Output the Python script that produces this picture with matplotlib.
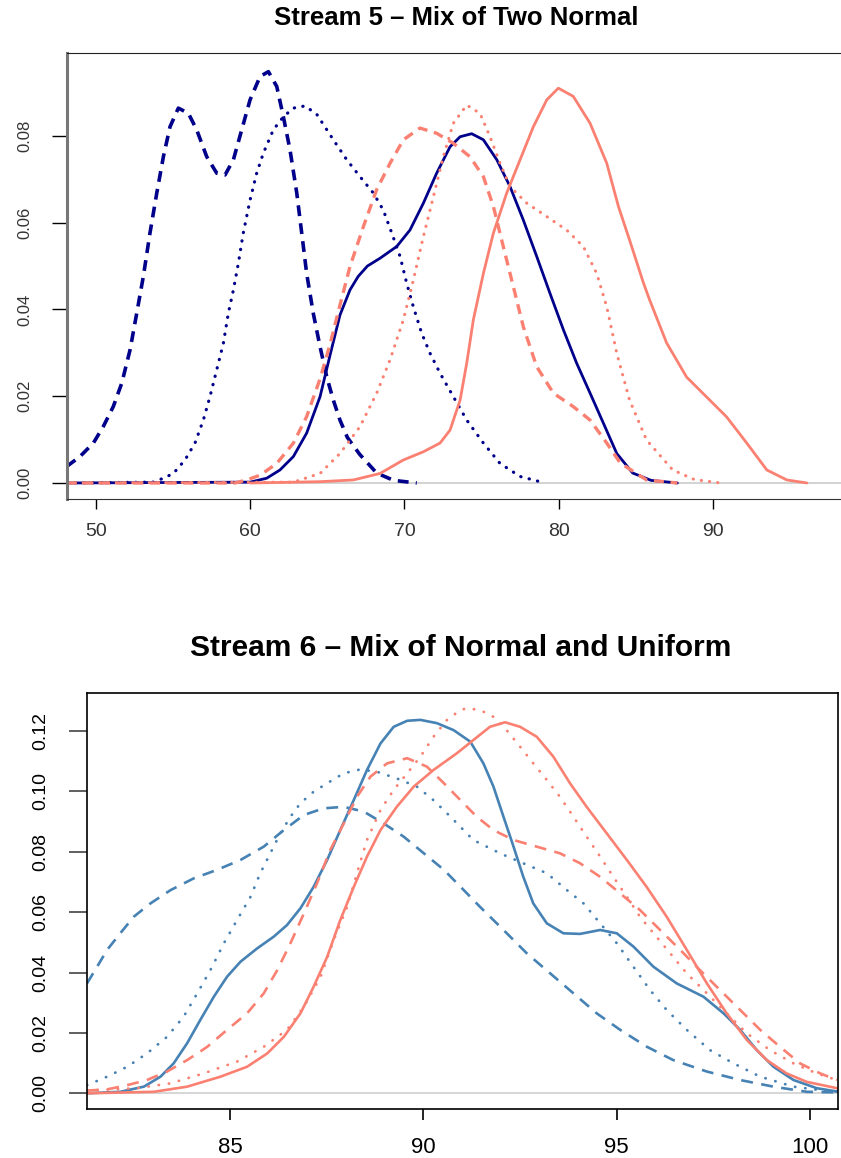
import matplotlib
matplotlib.use("Agg")
import matplotlib.pyplot as plt

plt.rcParams['font.family'] = ['Liberation Sans', 'DejaVu Sans']

NAVY = '#00008B'
SALMON = '#FA8072'
STEEL = '#4682B4'

# ---- Stream 5 (top) ----
s5_navy_solid_x = [48.1, 60.0, 61.07, 61.93, 62.8, 63.66, 64.53, 65.18, 65.82, 66.47, 67.0, 67.6, 68.42, 69.5,
                   70.36, 71.23, 72.09, 72.96, 73.61, 74.36, 75.12, 75.99, 76.85, 77.71, 78.58, 79.44, 80.31,
                   81.17, 82.04, 82.9, 83.77, 84.8, 86.0, 87.7]
s5_navy_solid_y = [0.0, 0.0002, 0.0011, 0.003, 0.0061, 0.0115, 0.0199, 0.0295, 0.0387, 0.0445, 0.0476, 0.0500,
                   0.0518, 0.0545, 0.0583, 0.0645, 0.0714, 0.0775, 0.0798, 0.0805, 0.0791, 0.0745, 0.0683, 0.0606,
                   0.0522, 0.0437, 0.0353, 0.0276, 0.0207, 0.0138, 0.0068, 0.0023, 0.0006, 0.0]

s5_navy_dash_x = [48.1, 48.96, 49.83, 50.47, 51.12, 51.67, 52.21, 52.64, 53.07, 53.5, 53.94, 54.37, 54.8, 55.34,
                  55.99, 56.53, 57.18, 57.83, 58.37, 58.91, 59.45, 59.99, 60.64, 61.18, 61.72, 62.15, 62.58, 63.02,
                  63.34, 63.66, 64.09, 64.53, 64.96, 65.39, 65.82, 66.3, 67.1, 68.2, 69.3, 70.8]
s5_navy_dash_y = [0.0038, 0.0061, 0.0092, 0.013, 0.0176, 0.023, 0.0307, 0.0391, 0.0476, 0.0576, 0.0668, 0.0752,
                  0.0821, 0.0864, 0.0852, 0.0814, 0.0752, 0.0714, 0.071, 0.0745, 0.0814, 0.0883, 0.0937, 0.0948,
                  0.0914, 0.0844, 0.0768, 0.0668, 0.0576, 0.0483, 0.0391, 0.0314, 0.0245, 0.0191, 0.0145, 0.0105,
                  0.0066, 0.0023, 0.0006, 0.0]

s5_navy_dot_x = [48.1, 53.7, 54.37, 55.02, 55.77, 56.42, 56.96, 57.39, 57.83, 58.26, 58.58, 58.91, 59.23, 59.55,
                 59.99, 60.42, 60.85, 61.5, 62.15, 62.8, 63.55, 64.31, 65.39, 66.26, 67.12, 67.99, 68.63, 69.18,
                 69.72, 70.15, 70.58, 71.12, 71.66, 72.31, 73.17, 74.04, 75.12, 76.2, 77.5, 78.79, 79.1]
s5_navy_dot_y = [0.0, 0.0002, 0.0011, 0.0022, 0.0053, 0.0092, 0.0145, 0.0199, 0.0261, 0.0322, 0.0391, 0.0445,
                 0.0506, 0.0576, 0.0652, 0.0714, 0.076, 0.0814, 0.0844, 0.0864, 0.0869, 0.085, 0.0791, 0.0745,
                 0.0706, 0.0668, 0.0629, 0.0576, 0.0522, 0.046, 0.0406, 0.0345, 0.0299, 0.0253, 0.0199, 0.0145,
                 0.0092, 0.0045, 0.0015, 0.0003, 0.0]

s5_salmon_solid_x = [60.0, 64.53, 66.69, 68.42, 69.93, 71.23, 72.31, 72.96, 73.61, 74.04, 74.47, 75.12, 75.77,
                     76.63, 77.5, 78.36, 79.23, 79.98, 80.95, 82.04, 83.12, 83.88, 84.6, 85.5, 85.9, 87.0, 88.3,
                     89.8, 90.9, 92.2, 93.5, 94.8, 96.1]
s5_salmon_solid_y = [0.0, 0.0003, 0.0007, 0.0022, 0.0053, 0.0072, 0.0092, 0.0122, 0.0191, 0.0276, 0.0376, 0.0483,
                     0.0576, 0.0668, 0.0745, 0.0821, 0.0883, 0.091, 0.0891, 0.0829, 0.0737, 0.0637, 0.056, 0.0461,
                     0.0422, 0.0323, 0.0244, 0.0191, 0.0152, 0.0092, 0.003, 0.0007, 0.0]

s5_salmon_dash_x = [48.1, 59.0, 59.77, 60.64, 61.72, 62.8, 63.66, 64.53, 65.18, 65.82, 66.47, 67.34, 68.2, 69.07,
                    69.93, 71.01, 72.09, 73.17, 74.25, 75.12, 75.77, 76.41, 77.06, 77.71, 78.58, 79.66, 80.95,
                    82.04, 83.12, 84.0, 85.7, 87.7]
s5_salmon_dash_y = [0.0, 0.0, 0.0007, 0.0018, 0.0045, 0.0092, 0.0153, 0.024, 0.032, 0.041, 0.0499, 0.0591,
                    0.0676, 0.0737, 0.0791, 0.0818, 0.0806, 0.0783, 0.0752, 0.0706, 0.0637, 0.0545, 0.0453, 0.036,
                    0.0268, 0.0207, 0.0176, 0.0145, 0.0092, 0.0046, 0.0007, 0.0]

s5_salmon_dot_x = [48.1, 62.8, 64.53, 65.82, 67.12, 68.2, 69.07, 69.93, 70.58, 71.23, 71.88, 72.52, 73.17, 74.04,
                   74.9, 75.55, 76.2, 76.85, 77.93, 79.23, 80.52, 81.6, 82.47, 83.12, 83.77, 84.6, 85.7, 87.4,
                   88.8, 90.5]
s5_salmon_dot_y = [0.0, 0.0002, 0.0022, 0.0068, 0.013, 0.0207, 0.0284, 0.0376, 0.0468, 0.0568, 0.066, 0.0752,
                   0.0829, 0.0871, 0.0852, 0.0798, 0.0737, 0.0683, 0.0645, 0.0614, 0.0583, 0.0545, 0.0483, 0.0406,
                   0.0299, 0.0191, 0.0099, 0.003, 0.0008, 0.0]

s5_xticks = [50, 60, 70, 80, 90]
s5_yticks = [0.00, 0.02, 0.04, 0.06, 0.08]

# ---- Stream 6 (bottom) ----
s6_blue_solid_x = [81.3, 82.16, 82.77, 83.2, 83.54, 83.89, 84.23, 84.58, 84.92, 85.27, 85.7, 86.13, 86.47, 86.82,
                   87.16, 87.51, 87.85, 88.2, 88.54, 88.89, 89.23, 89.58, 89.92, 90.35, 90.78, 91.21, 91.55,
                   91.81, 92.07, 92.33, 92.58, 92.84, 93.19, 93.62, 94.05, 94.57, 95.0, 95.43, 95.95, 96.55,
                   97.24, 97.76, 98.19, 98.62, 99.05, 99.57, 100.17, 100.69]
s6_blue_solid_y = [0.0, 0.0005, 0.0022, 0.0055, 0.0099, 0.0166, 0.0243, 0.032, 0.0386, 0.0436, 0.048, 0.0519,
                   0.0557, 0.0613, 0.0684, 0.0773, 0.0872, 0.0972, 0.1071, 0.1159, 0.1214, 0.1234, 0.1237,
                   0.1226, 0.1203, 0.1165, 0.1093, 0.1016, 0.0916, 0.0817, 0.0718, 0.0629, 0.0563, 0.053, 0.0528,
                   0.0541, 0.053, 0.0486, 0.0419, 0.0364, 0.032, 0.0265, 0.021, 0.0143, 0.0088, 0.0044, 0.0017,
                   0.0006]

s6_blue_dash_x = [81.3, 81.56, 81.82, 82.16, 82.51, 82.94, 83.46, 84.06, 84.66, 85.27, 85.87, 86.39, 86.91, 87.42,
                  87.94, 88.46, 88.97, 89.49, 90.01, 90.53, 90.96, 91.46, 92.07, 92.67, 93.28, 93.88, 94.48,
                  95.09, 95.78, 96.46, 97.33, 98.19, 99.05, 99.91, 100.69]
s6_blue_dash_y = [0.0364, 0.0419, 0.0475, 0.053, 0.0585, 0.0629, 0.0673, 0.0712, 0.074, 0.0773, 0.0817, 0.0872,
                  0.0922, 0.0944, 0.0949, 0.0933, 0.0894, 0.085, 0.0795, 0.074, 0.0684, 0.0618, 0.0541, 0.0464,
                  0.0397, 0.0331, 0.0265, 0.021, 0.0154, 0.011, 0.0072, 0.0044, 0.0022, 0.0005, 0.0003]

s6_blue_dot_x = [81.3, 81.82, 82.34, 82.85, 83.37, 83.8, 84.15, 84.49, 84.84, 85.18, 85.53, 85.78, 86.04, 86.3,
                 86.56, 86.82, 87.16, 87.51, 87.94, 88.37, 88.8, 89.31, 89.83, 90.26, 90.7, 91.29, 91.98, 92.58,
                 93.19, 93.71, 94.14, 94.57, 95.0, 95.43, 95.86, 96.29, 96.81, 97.41, 98.02, 98.71, 99.57,
                 100.34, 100.7]
s6_blue_dot_y = [0.0027, 0.0055, 0.0088, 0.0132, 0.0187, 0.0254, 0.0331, 0.0408, 0.0497, 0.0574, 0.0651, 0.0729,
                 0.0795, 0.0861, 0.0916, 0.0961, 0.0999, 0.1027, 0.106, 0.1073, 0.1065, 0.1043, 0.1016, 0.0971,
                 0.0916, 0.0839, 0.0795, 0.0762, 0.0729, 0.0673, 0.0629, 0.0563, 0.0497, 0.0419, 0.0342, 0.0276,
                 0.021, 0.0143, 0.0099, 0.0055, 0.0022, 0.0009, 0.0006]

s6_salmon_solid_x = [81.3, 83.03, 83.89, 84.75, 85.44, 85.96, 86.39, 86.82, 87.16, 87.51, 87.85, 88.2, 88.54,
                     88.89, 89.31, 89.75, 90.26, 90.86, 91.29, 91.72, 92.11, 92.5, 92.93, 93.36, 93.79, 94.22,
                     94.74, 95.26, 95.77, 96.29, 96.81, 97.33, 97.84, 98.36, 98.88, 99.39, 99.91, 100.69]
s6_salmon_solid_y = [0.0, 0.0005, 0.0022, 0.0055, 0.0088, 0.0132, 0.0187, 0.0265, 0.0353, 0.0452, 0.0574,
                     0.0684, 0.0784, 0.0872, 0.0949, 0.1016, 0.1071, 0.1126, 0.117, 0.1214, 0.1229, 0.1214,
                     0.1181, 0.1115, 0.1027, 0.0949, 0.0861, 0.0773, 0.0684, 0.0585, 0.0475, 0.0364, 0.0265,
                     0.0177, 0.011, 0.0066, 0.0038, 0.0017]

s6_salmon_dash_x = [81.3, 81.82, 82.34, 82.85, 83.37, 83.89, 84.41, 84.92, 85.44, 85.87, 86.22, 86.56, 86.91,
                    87.25, 87.59, 87.94, 88.28, 88.63, 89.06, 89.58, 90.09, 90.53, 90.95, 91.38, 91.81, 92.33,
                    92.93, 93.53, 94.05, 94.57, 95.09, 95.6, 96.12, 96.64, 97.15, 97.67, 98.19, 98.71, 99.22,
                    99.74, 100.26, 100.69]
s6_salmon_dash_y = [0.0009, 0.0013, 0.0027, 0.0044, 0.0072, 0.011, 0.0154, 0.021, 0.0265, 0.0331, 0.0408,
                    0.0497, 0.0596, 0.0696, 0.0806, 0.0894, 0.0982, 0.1049, 0.1093, 0.111, 0.1082, 0.1027,
                    0.0972, 0.0916, 0.0872, 0.0839, 0.0817, 0.0795, 0.0762, 0.0717, 0.0662, 0.0607, 0.0541,
                    0.0475, 0.0408, 0.0342, 0.0276, 0.021, 0.0154, 0.0099, 0.0066, 0.0044]

s6_salmon_dot_x = [81.3, 82.6, 83.46, 84.32, 85.18, 85.87, 86.47, 86.91, 87.34, 87.68, 88.03, 88.28, 88.54,
                   88.89, 89.23, 89.58, 89.92, 90.26, 90.61, 90.96, 91.12, 91.46, 91.81, 92.15, 92.5, 92.84,
                   93.19, 93.53, 93.88, 94.22, 94.57, 94.91, 95.26, 95.6, 95.95, 96.38, 96.81, 97.33, 97.84,
                   98.36, 98.96, 99.57, 100.17, 100.69]
s6_salmon_dot_y = [0.0009, 0.0017, 0.0033, 0.0066, 0.0105, 0.0154, 0.021, 0.0287, 0.0386, 0.0508, 0.0618,
                   0.0729, 0.0839, 0.0938, 0.1005, 0.106, 0.1115, 0.1181, 0.1237, 0.127, 0.1275, 0.127, 0.1247,
                   0.1203, 0.1148, 0.1093, 0.1038, 0.0982, 0.0916, 0.085, 0.0784, 0.0717, 0.0651, 0.0585,
                   0.053, 0.0464, 0.0397, 0.0331, 0.0265, 0.0199, 0.0143, 0.0099, 0.0066, 0.0044]

s6_xticks = [85, 90, 95, 100]
s6_yticks = [0.00, 0.02, 0.04, 0.06, 0.08, 0.10, 0.12]


fig = plt.figure(figsize=(8.41, 11.58), dpi=100)

# top panel
ax1 = fig.add_axes([67 / 841, 1 - 499 / 1158, 1 - 67 / 841, (499 - 53) / 1158])
ax1.axhline(0, color='#cfcfcf', lw=1.3, zorder=1)
ax1.plot(s5_navy_dash_x, s5_navy_dash_y, color=NAVY, lw=2.6, dashes=(3.0, 2.0), dash_capstyle='butt')
ax1.plot(s5_navy_dot_x, s5_navy_dot_y, color=NAVY, lw=2.3, dashes=(0.1, 2.6), dash_capstyle='round')
ax1.plot(s5_navy_solid_x, s5_navy_solid_y, color=NAVY, lw=2.0, solid_capstyle='round')
ax1.plot(s5_salmon_dash_x, s5_salmon_dash_y, color=SALMON, lw=2.4, dashes=(3.0, 2.0), dash_capstyle='butt')
ax1.plot(s5_salmon_dot_x, s5_salmon_dot_y, color=SALMON, lw=2.2, dashes=(0.1, 2.6), dash_capstyle='round')
ax1.plot(s5_salmon_solid_x, s5_salmon_solid_y, color=SALMON, lw=2.0, solid_capstyle='round')
ax1.set_xlim(48.12, 98.31)
ax1.set_ylim(-0.00369, 0.0991)
ax1.set_xticks(s5_xticks)
ax1.set_yticks(s5_yticks)
ax1.set_yticklabels(['%.2f' % v for v in s5_yticks], rotation=90, va='center')
ax1.tick_params(axis='y', length=11, width=1, pad=14, labelsize=12, labelcolor='#333333')
ax1.tick_params(axis='x', length=7, width=1, pad=10, labelsize=14, labelcolor='#333333')
ax1.spines['right'].set_visible(False)
ax1.spines['left'].set_color('#777777')
ax1.spines['left'].set_linewidth(2.2)
ax1.spines['top'].set_color('#222222')
ax1.spines['bottom'].set_color('#333333')
fig.text(456 / 841, 1 - 18 / 1158, 'Stream 5 \u2013 Mix of Two Normal', ha='center', va='center',
         fontsize=18.5, fontweight='bold')

# bottom panel
ax2 = fig.add_axes([87 / 841, 1 - 1109 / 1158, (838 - 87) / 841, (1109 - 693) / 1158])
ax2.axhline(0, color='#d3d3d3', lw=1.3, zorder=1)
ax2.plot(s6_blue_dash_x, s6_blue_dash_y, color=STEEL, lw=1.9, dashes=(4.5, 3.2), dash_capstyle='butt')
ax2.plot(s6_blue_dot_x, s6_blue_dot_y, color=STEEL, lw=2.0, dashes=(0.1, 3.6), dash_capstyle='round')
ax2.plot(s6_blue_solid_x, s6_blue_solid_y, color=STEEL, lw=1.9)
ax2.plot(s6_salmon_dash_x, s6_salmon_dash_y, color=SALMON, lw=1.9, dashes=(4.5, 3.2), dash_capstyle='butt')
ax2.plot(s6_salmon_dot_x, s6_salmon_dot_y, color=SALMON, lw=2.0, dashes=(0.1, 3.6), dash_capstyle='round')
ax2.plot(s6_salmon_solid_x, s6_salmon_solid_y, color=SALMON, lw=1.9)
ax2.set_xlim(81.30, 100.72)
ax2.set_ylim(-0.0052, 0.1326)
ax2.set_xticks(s6_xticks)
ax2.set_yticks(s6_yticks)
ax2.set_yticklabels(['%.2f' % v for v in s6_yticks], rotation=90, va='center')
ax2.tick_params(axis='y', length=13, width=1.2, pad=14, labelsize=14, color='#444444')
ax2.tick_params(axis='x', length=8, width=1.2, pad=12, labelsize=16)
for sp in ax2.spines.values():
    sp.set_color('black')
    sp.set_linewidth(1.2)
fig.text(461 / 841, 1 - 648 / 1158, 'Stream 6 \u2013 Mix of Normal and Uniform', ha='center', va='center',
         fontsize=21.5, fontweight='bold')

fig.savefig('out.png', dpi=100)
